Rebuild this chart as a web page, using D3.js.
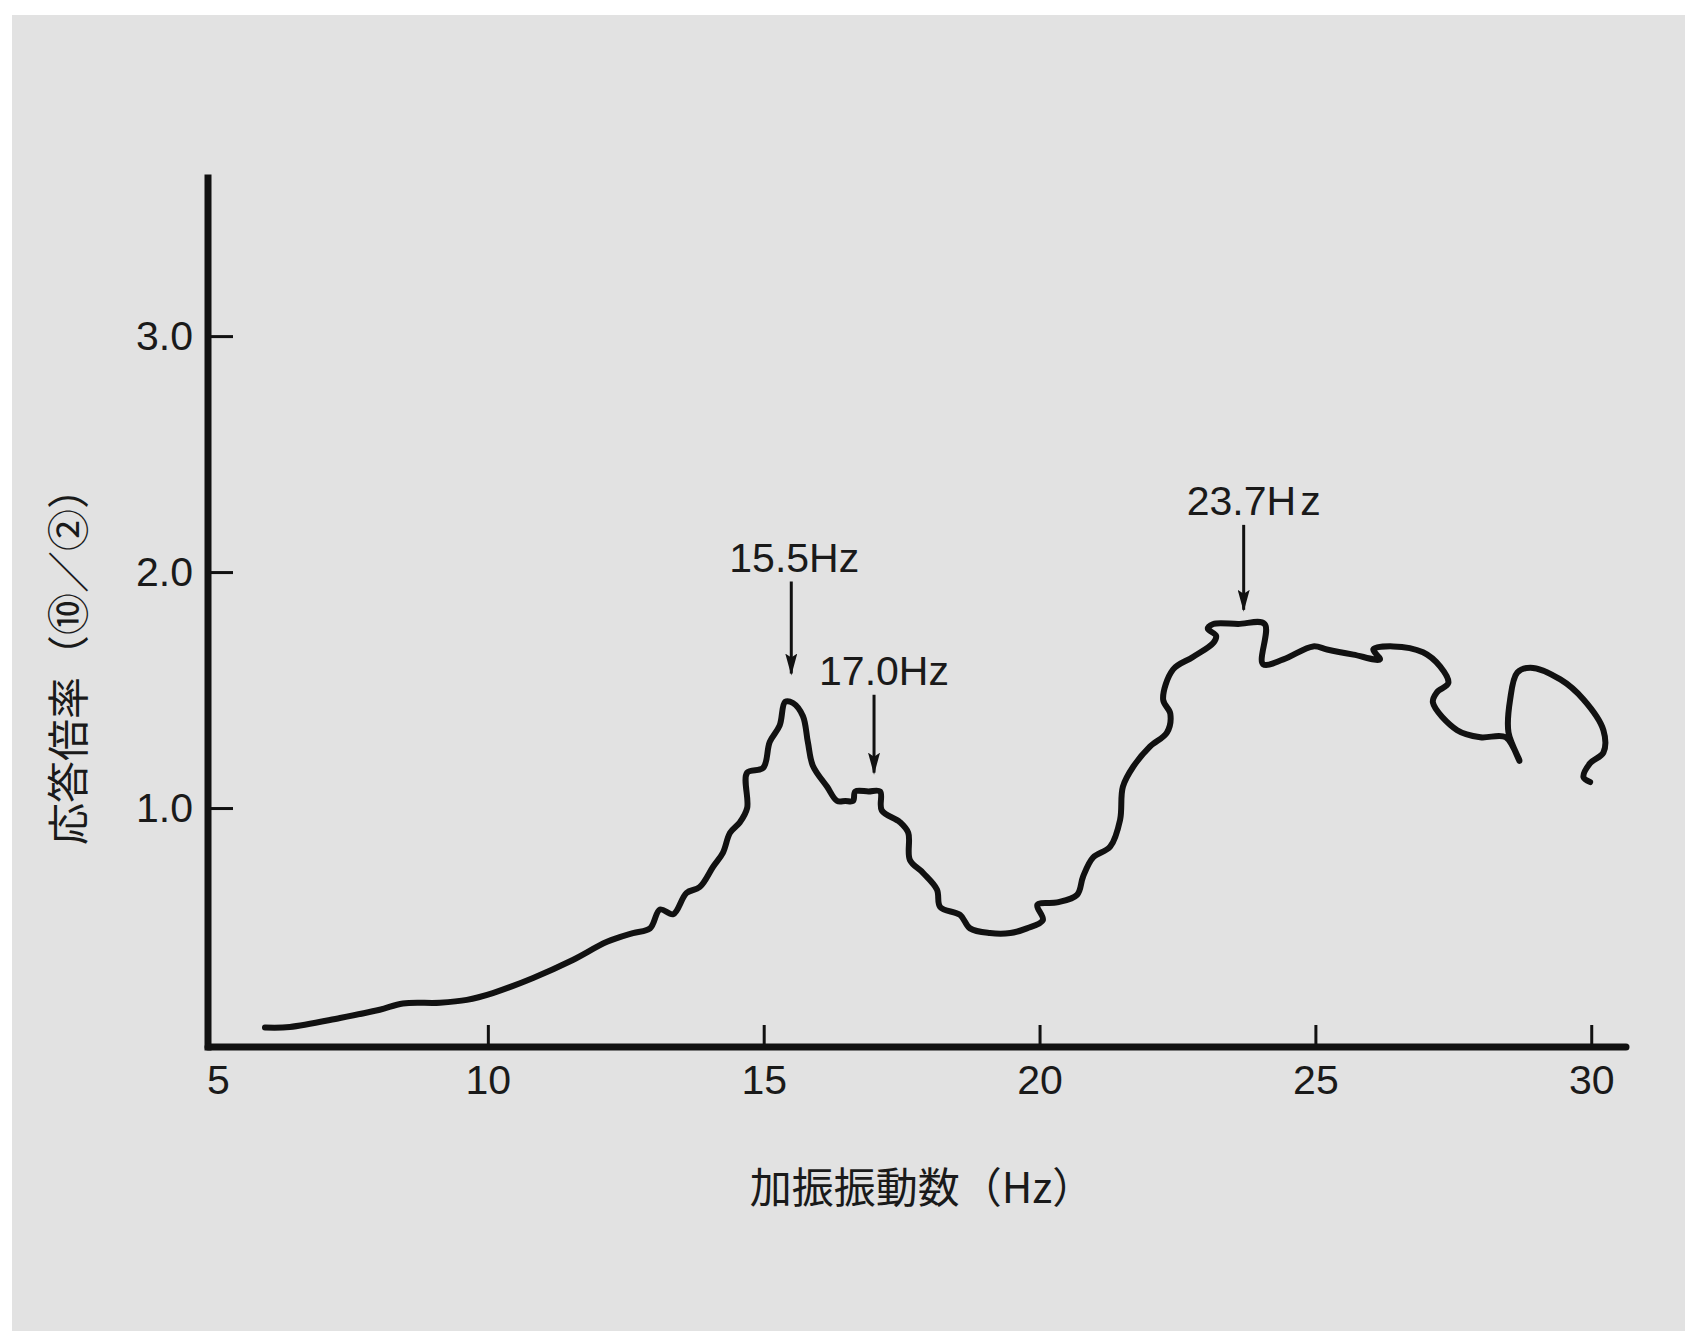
<!DOCTYPE html>
<html lang="ja">
<head>
<meta charset="UTF-8">
<title>応答倍率</title>
<script src="https://cdnjs.cloudflare.com/ajax/libs/d3/7.8.5/d3.min.js"></script>
<style>
  body { margin: 0; background: #ffffff; overflow: hidden; }
  svg { display: block; }
  .num { font-family: "Liberation Sans", Arial, sans-serif; font-size: 41px; fill: #1a1a1a; }
  .jp { font-family: "Noto Sans CJK JP", "Noto Sans", sans-serif; font-size: 42px; fill: #1a1a1a; }
</style>
</head>
<body>
<div id="chart"></div>
<script>
// frequency sweep trace (path order, x can step back)
const freqs = [5.96, 6.41, 7.32, 8.04, 8.46, 9.13, 9.62, 10.09, 10.82, 11.54,
  12.16, 12.63, 12.94, 13.12, 13.36, 13.6, 13.84, 14.08, 14.26, 14.39,
  14.57, 14.70, 14.70, 14.99, 15.11, 15.29, 15.39, 15.53, 15.71, 15.80,
  15.89, 16.15, 16.33, 16.48, 16.62, 16.66, 16.90, 17.11, 17.14, 17.47, 17.62, 17.65,
  17.89, 18.14, 18.20, 18.56, 18.74, 19.10, 19.47, 19.77, 20.06, 19.96,
  20.32, 20.68, 20.79, 20.97, 21.28, 21.46, 21.51, 21.70, 22.00, 22.31,
  22.37, 22.24, 22.42, 22.78, 23.15, 23.20, 23.05, 23.15, 23.60, 24.08, 24.05,
  24.42, 24.96, 25.21, 25.69, 26.17, 26.05, 26.41, 26.95, 27.26, 27.41,
  27.20, 27.13, 27.57, 27.99, 28.45, 28.70, 28.50, 28.53, 28.66, 28.90,
  29.44, 29.86, 30.22, 30.22, 29.98, 29.86, 29.98];
const ratios = [0.07, 0.072, 0.11, 0.145, 0.172, 0.175, 0.187, 0.216, 0.28, 0.356,
  0.433, 0.47, 0.49, 0.57, 0.55, 0.64, 0.665, 0.75, 0.81, 0.895,
  0.94, 1.0, 1.15, 1.17, 1.28, 1.35, 1.45, 1.445, 1.39, 1.28,
  1.18, 1.09, 1.03, 1.03, 1.03, 1.07, 1.07, 1.07, 0.99, 0.94, 0.895, 0.78,
  0.725, 0.655, 0.58, 0.547, 0.49, 0.47, 0.47, 0.49, 0.525, 0.59,
  0.60, 0.632, 0.71, 0.79, 0.836, 0.95, 1.09, 1.176, 1.26, 1.32,
  1.40, 1.46, 1.587, 1.64, 1.70, 1.73, 1.76, 1.78, 1.78, 1.78, 1.61,
  1.63, 1.685, 1.672, 1.65, 1.63, 1.672, 1.685, 1.66, 1.60, 1.53,
  1.49, 1.447, 1.33, 1.30, 1.30, 1.20, 1.32, 1.46, 1.574, 1.595,
  1.545, 1.46, 1.33, 1.235, 1.19, 1.13, 1.11];

const xTicks = [5, 10, 15, 20, 25, 30];
const yTicks = [1.0, 2.0, 3.0];

// peak markers
const peakFreqs = [15.5, 17.0, 23.7];
const peakLabels = ["15.5Hz", "17.0Hz", "23.7Hz"];
const peakTips = [1.57, 1.15, 1.84];
const peakTops = [1.96, 1.48, 2.20];

const xTitle = "加振振動数（Hz）";
const yTitle = "応答倍率（⑩／②）";

const W = 1685, H = 1331;
const svg = d3.select("#chart").append("svg").attr("width", W).attr("height", H);

svg.append("rect").attr("x", 12).attr("y", 15).attr("width", W - 12).attr("height", H - 15)
  .attr("fill", "#e2e2e2");

const x = d3.scaleLinear().domain([5, 30.63]).range([212, 1626]);
const y = d3.scaleLinear().domain([0, 3.67]).range([1044, 178]);
const axisX = 208, axisY = 1047;

// x axis
const gx = svg.append("g").attr("transform", `translate(0,${axisY})`)
  .call(d3.axisBottom(x).tickValues(xTicks).tickFormat(d3.format("d"))
    .tickSizeInner(-22).tickSizeOuter(0).tickPadding(18));
gx.select(".domain").remove();
gx.selectAll(".tick line").attr("stroke", "#111").attr("stroke-width", 3)
  .filter(d => d === 5).remove();
gx.selectAll(".tick text").attr("class", "num").attr("font-family", null).attr("font-size", null)
  .filter(d => d === 5).attr("dx", 6);

// y axis
const gy = svg.append("g").attr("transform", `translate(${axisX},0)`)
  .call(d3.axisLeft(y).tickValues(yTicks).tickFormat(d3.format(".1f"))
    .tickSizeInner(-25).tickSizeOuter(0).tickPadding(15));
gy.select(".domain").remove();
gy.selectAll(".tick line").attr("stroke", "#111").attr("stroke-width", 3);
gy.selectAll(".tick text").attr("class", "num").attr("font-family", null).attr("font-size", null);

// thick axis lines
svg.append("line").attr("x1", axisX).attr("x2", axisX).attr("y1", y(3.67)).attr("y2", axisY)
  .attr("stroke", "#111").attr("stroke-width", 7).attr("stroke-linecap", "square");
svg.append("line").attr("x1", axisX).attr("x2", x(30.63)).attr("y1", axisY).attr("y2", axisY)
  .attr("stroke", "#111").attr("stroke-width", 7).attr("stroke-linecap", "round");

// trace
const pts = freqs.map((f, i) => [f, ratios[i]]);
svg.append("path")
  .attr("d", d3.line().x(d => x(d[0])).y(d => y(d[1])).curve(d3.curveCatmullRom.alpha(0.5))(pts))
  .attr("fill", "none").attr("stroke", "#111").attr("stroke-width", 6)
  .attr("stroke-linejoin", "round").attr("stroke-linecap", "round");

// peak arrows and labels
const defs = svg.append("defs");
defs.append("marker").attr("id", "arrow").attr("viewBox", "0 0 22 12")
  .attr("refX", 20).attr("refY", 6).attr("markerWidth", 22).attr("markerHeight", 12)
  .attr("markerUnits", "userSpaceOnUse").attr("orient", "auto")
  .append("path").attr("d", "M0,0 L22,6 L0,12 L4,6 z").attr("fill", "#111");

const labelDx = [3, 10, 10];
peakFreqs.forEach((f, i) => {
  svg.append("line").attr("x1", x(f)).attr("x2", x(f))
    .attr("y1", y(peakTops[i])).attr("y2", y(peakTips[i]))
    .attr("stroke", "#111").attr("stroke-width", 3).attr("marker-end", "url(#arrow)");
  const t = svg.append("text").attr("class", "num")
    .attr("x", x(f) + labelDx[i]).attr("y", y(peakTops[i]) - 10)
    .attr("text-anchor", "middle");
  if (i === 2) {
    t.append("tspan").text(peakLabels[i].slice(0, -1));
    t.append("tspan").attr("dx", 4).text(peakLabels[i].slice(-1));
  } else {
    t.text(peakLabels[i]);
  }
});

// axis titles
svg.append("text").attr("class", "jp").attr("x", 922).attr("y", 1184)
  .attr("text-anchor", "middle").attr("dominant-baseline", "central").text(xTitle);
svg.append("text").attr("class", "jp")
  .attr("transform", "translate(65,656) rotate(-90)")
  .attr("text-anchor", "middle").attr("dominant-baseline", "central").text(yTitle);
</script>
</body>
</html>
